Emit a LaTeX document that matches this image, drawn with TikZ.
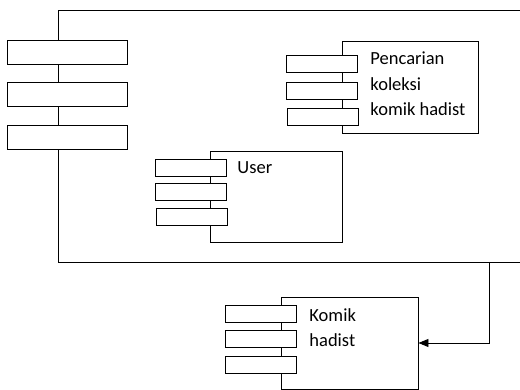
\documentclass[tikz,border=0pt]{standalone}
\usepackage{fontspec}
\setmainfont{Carlito}
\usepackage{tikz}
\usetikzlibrary{arrows.meta}

\begin{document}
\begin{tikzpicture}[x=1pt, y=-1pt, line width=0.9pt]
\useasboundingbox (0,0) rectangle (520,390);
\clip (0,0) rectangle (520,390);

\begin{scope}[every node/.style={rectangle,draw,inner sep=0pt}]
  % badan komponen
  \node[minimum width=482, minimum height=252] (sistem) at (299,136) {};
    \node[minimum width=136, minimum height=92] (pencarian) at (410,87) {};
    \node[minimum width=132, minimum height=91] (user) at (276,196.5) {};
    \node[minimum width=137, minimum height=92] (komik) at (349.5,343) {};
\end{scope}

\begin{scope}[every node/.style={rectangle,draw,fill=white,inner sep=0pt}]
  % port sistem
  \node[minimum width=120, minimum height=24] (sistemA) at (67,52) {};
    \node[minimum width=120, minimum height=24] (sistemB) at (67,94.5) {};
    \node[minimum width=120, minimum height=24] (sistemC) at (67,137.5) {};
  % port pencarian
  \node[minimum width=71, minimum height=17] (pencarianA) at (321.5,63.5) {};
    \node[minimum width=71, minimum height=17] (pencarianB) at (321.5,91) {};
    \node[minimum width=71, minimum height=17] (pencarianC) at (322.5,116.5) {};
  % port user
  \node[minimum width=71, minimum height=17] (userA) at (190.5,167.5) {};
    \node[minimum width=71, minimum height=17] (userB) at (190.5,192) {};
    \node[minimum width=71, minimum height=17] (userC) at (191.5,217) {};
  % port komik
  \node[minimum width=71, minimum height=17] (komikA) at (260.5,314) {};
    \node[minimum width=71, minimum height=17] (komikB) at (260.5,338.5) {};
    \node[minimum width=71, minimum height=17] (komikC) at (260.5,364.5) {};
\end{scope}

% base = baris terakhir
\begin{scope}[every node/.style={anchor=base west, align=left, inner sep=0pt,
              font=\fontsize{18.5}{25.5}\selectfont}]
    \node (pencarianLbl) at (370,116) {Pencarian\\koleksi\\komik hadist};
    \node (userLbl) at (237,174) {User};
    \node (komikLbl) at (309,347) {Komik\\hadist};
\end{scope}

\begin{scope}[>={Triangle[length=10pt,width=8pt]}]
    \coordinate (turun) at (489,262);
    \draw [->] (turun) |- (komik.east);
\end{scope}
\end{tikzpicture}
\end{document}
